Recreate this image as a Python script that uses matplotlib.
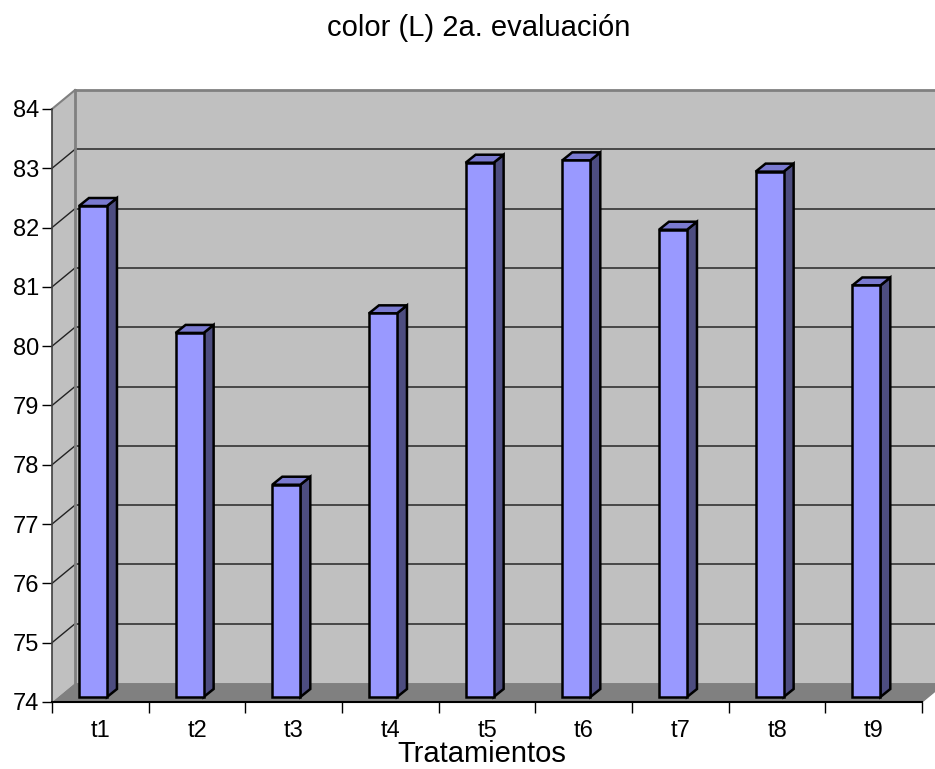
import matplotlib
matplotlib.use('Agg')
import matplotlib.pyplot as plt
from matplotlib.patches import Polygon
import numpy as np

plt.rcParams['font.family'] = ['Liberation Sans', 'DejaVu Sans']

# Data
categories = ['t1', 't2', 't3', 't4', 't5', 't6', 't7', 't8', 't9']
values = [82.28, 80.14, 77.58, 80.47, 83.01, 83.05, 81.88, 82.86, 80.94]
y_min, y_max = 74, 84

# 3D look (in data units)
DX, DY = 0.238, 0.32          # depth of the floor / side wall
BDX, BDY = 0.103, 0.135       # depth of each bar
BASE = 0.084                  # bar base raised (bar sits inside the floor)
BAR_W = 0.29
BAR_OFF = 0.424

FRONT = '#9999FF'
TOP = '#7A7AD0'
SIDE = '#4D4D80'
WALL = '#C0C0C0'
FLOOR = '#808080'

fig = plt.figure(figsize=(9.35, 7.69), dpi=100, facecolor='white')
ax = fig.add_axes([52 / 935, 67 / 769, 870 / 935, 593 / 769])
ax.set_xlim(0, len(categories))
ax.set_ylim(y_min, y_max)
ax.set_facecolor('none')

n = len(categories)

# walls and floor
ax.add_patch(Polygon([(DX, y_min + DY), (DX, y_max + DY), (n + DX, y_max + DY), (n + DX, y_min + DY)],
                     closed=True, facecolor=WALL, edgecolor='none', zorder=0, clip_on=False))
ax.add_patch(Polygon([(0, y_min), (0, y_max), (DX, y_max + DY), (DX, y_min + DY)],
                     closed=True, facecolor=WALL, edgecolor='none', zorder=0, clip_on=False))
ax.add_patch(Polygon([(0, y_min), (n, y_min), (n + DX, y_min + DY), (DX, y_min + DY)],
                     closed=True, facecolor=FLOOR, edgecolor='none', zorder=1, clip_on=False))

# gridlines on back wall + side wall
for k in range(y_min + 1, y_max):
    ax.plot([DX, n + DX], [k + DY, k + DY], color='#333333', lw=1.2, zorder=0.5, clip_on=False)
    ax.plot([0, DX], [k, k + DY], color='#222222', lw=1, zorder=0.5, clip_on=False)

# wall edges
ax.plot([DX, n + DX], [y_max + DY, y_max + DY], color='#808080', lw=2, zorder=0.6, clip_on=False)
ax.plot([DX, DX], [y_min + DY, y_max + DY], color='#808080', lw=2, zorder=0.6, clip_on=False)
ax.plot([0, DX], [y_max, y_max + DY], color='#808080', lw=1.5, zorder=0.6, clip_on=False)
ax.plot([n, n + DX], [y_min, y_min + DY], color='#808080', lw=1, zorder=1.1, clip_on=False)

# bars
x = np.arange(n) + BAR_OFF
heights = np.array(values) - y_min
ax.bar(x, heights, bottom=y_min + BASE, width=BAR_W, color=FRONT, edgecolor='black',
       linewidth=1.8, zorder=3)
for xi, v in zip(x, values):
    xl, xr = xi - BAR_W / 2, xi + BAR_W / 2
    top = v + BASE
    bot = y_min + BASE
    ax.add_patch(Polygon([(xr, bot), (xr, top), (xr + BDX, top + BDY), (xr + BDX, bot + BDY)],
                         closed=True, facecolor=SIDE, edgecolor='black', lw=1.8, zorder=2.9))
    ax.add_patch(Polygon([(xl, top), (xr, top), (xr + BDX, top + BDY), (xl + BDX, top + BDY)],
                         closed=True, facecolor=TOP, edgecolor='black', lw=1.8, zorder=2.9,
                         joinstyle='miter'))

# axes / ticks
for s in ['top', 'right']:
    ax.spines[s].set_visible(False)
ax.spines['left'].set_color('#404040')
ax.spines['left'].set_linewidth(1.2)
ax.spines['bottom'].set_color('black')
ax.spines['bottom'].set_linewidth(1.5)
ax.spines['left'].set_zorder(5)
ax.spines['bottom'].set_zorder(5)

ax.set_yticks(range(y_min, y_max + 1))
ax.tick_params(axis='y', direction='out', length=7.5, width=1, labelsize=17, pad=2)
ax.set_xticks(range(n + 1))
ax.set_xticklabels([])
ax.tick_params(axis='x', which='major', direction='out', length=8, width=1)
ax.set_xticks(np.arange(n) + 0.5, minor=True)
ax.set_xticklabels(categories, minor=True)
ax.tick_params(axis='x', which='minor', length=0, labelsize=17, pad=13)

fig.text(479 / 935, 1 - 36 / 769, 'color (L) 2a. evaluación', ha='center', va='baseline', fontsize=21)
fig.text(482 / 935, 1 / 769, 'Tratamientos', ha='center', va='bottom', fontsize=21)

fig.savefig('out.png', dpi=100, facecolor='white')
